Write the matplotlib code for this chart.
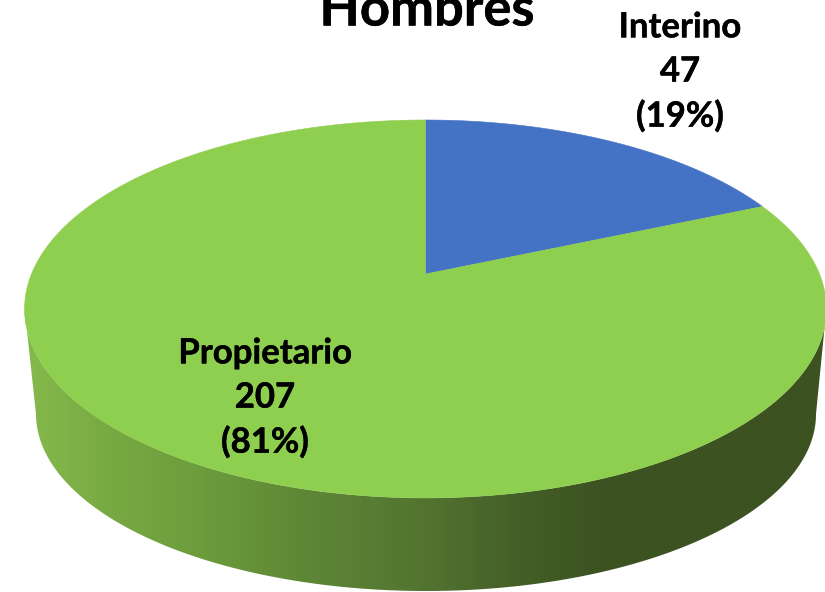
import numpy as np
import matplotlib
matplotlib.use("Agg")
import matplotlib.pyplot as plt
import matplotlib.patheffects as pe
from matplotlib.patches import Polygon
from matplotlib.colors import LinearSegmentedColormap

title = "Hombres"
categories = ["Interino", "Propietario"]
values = [47, 207]
percent_labels = ["(19%)", "(81%)"]

W, H = 825, 592
colors = ["#4472C4", "#8FCF50"]
side_x = [23, 100, 200, 300, 425, 520, 610, 826]
side_colors = ["#86BA4C", "#79AB43", "#6C9C3C", "#5F8836", "#527430", "#445F27", "#3C5221", "#3C5221"]

# perspective projection of the unit disc onto the picture
APEX_X, APEX_Y = 425.5, 274.0
A, B, K = 394.0, 182.5, 0.185


def project(u, v):
    w = 1 + K * v
    return APEX_X + A * u / w, APEX_Y - B * v / w


fig = plt.figure(figsize=(W / 100, H / 100), dpi=100)
ax = fig.add_axes([0, 0, 1, 1])
ax.set_xlim(0, W)
ax.set_ylim(H, 0)
ax.axis("off")

# side wall: front of the rim between its widest points, down to the lower rim
t = np.radians(np.linspace(-90, 90, 600))
rim_x, rim_y = project(np.sin(t), -np.cos(t))
i0, i1 = np.argmin(rim_x), np.argmax(rim_x)
top_x, top_y = rim_x[i0:i1 + 1], rim_y[i0:i1 + 1]
BOT_CX, BOT_CY, BOT_RX, BOT_RY = 426.0, 414.0, 390.0, 177.0
th = np.linspace(np.pi, 0, 300)
bot_x = BOT_CX + BOT_RX * np.cos(th)
bot_y = BOT_CY + BOT_RY * np.sin(th)
outline = np.column_stack([np.r_[top_x, bot_x[::-1]], np.r_[top_y, bot_y[::-1]]])
stops = [(x - side_x[0]) / (side_x[-1] - side_x[0]) for x in side_x]
cmap = LinearSegmentedColormap.from_list("side", list(zip(stops, side_colors)))
grad = ax.imshow(np.linspace(0, 1, 512)[None, :], cmap=cmap, aspect="auto",
                 extent=[side_x[0], side_x[-1], H, 0], zorder=1, interpolation="bilinear")
ax.set_xlim(0, W)
ax.set_ylim(H, 0)
clip = Polygon(outline, closed=True, transform=ax.transData, fc="none", ec="none")
ax.add_patch(clip)
grad.set_clip_path(clip)

# top surface, clockwise from twelve o'clock
fractions = np.array(values, dtype=float) / sum(values)
edges = np.r_[0, np.cumsum(fractions)] * 2 * np.pi
for start, stop, col in zip(edges[:-1], edges[1:], colors):
    a = np.linspace(start, stop, 300)
    x, y = project(np.sin(a), np.cos(a))
    ax.fill(np.r_[APEX_X, x], np.r_[APEX_Y, y], color=col, lw=0.4, zorder=2)

font = dict(family="Lato", weight="bold", color="black", ha="center", va="center", zorder=3,
            path_effects=[pe.withStroke(linewidth=0.3, foreground="black")])
ax.text(427, 10, title, fontsize=37.8, **font)
label_pos = [(680, 72), (265, 398)]
for cat, val, pct, (lx, ly) in zip(categories, values, percent_labels, label_pos):
    ax.text(lx, ly, f"{cat}\n{val}\n{pct}", fontsize=25, linespacing=1.47, **font)

fig.savefig("out.png", dpi=100)
